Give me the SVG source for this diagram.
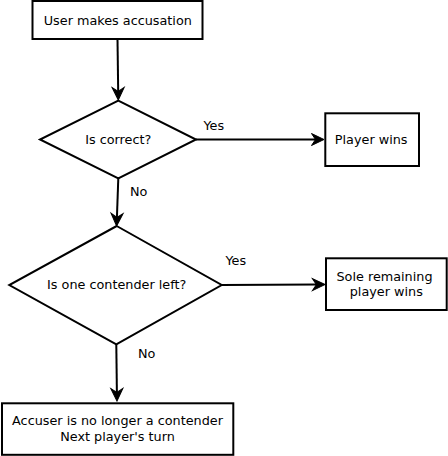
<svg xmlns="http://www.w3.org/2000/svg" width="448" height="456" viewBox="0 0 448 456">
<style>
.box{fill:#fff;stroke:#000;stroke-width:2}
.dia{fill:#fff;stroke:#000;stroke-width:2;stroke-linejoin:miter}
.con{fill:none;stroke:#000;stroke-width:2}
text{font-family:"DejaVu Sans","Liberation Sans",sans-serif;font-size:12.8px;fill:#000}
.c{text-anchor:middle}
</style>
<defs>
<marker id="arr" markerUnits="userSpaceOnUse" viewBox="-6 -7 16 14" refX="0" refY="0" markerWidth="16" markerHeight="14" orient="auto" overflow="visible">
<path d="M8,0 L-4.5,-6 L-0.5,0 L-4.5,6 Z" fill="#000" stroke="#000" stroke-width="1" stroke-linejoin="miter"/>
</marker>
</defs>
<g id="connectors">
<line class="con" x1="117.5" y1="39" x2="118.2" y2="92" marker-end="url(#arr)"/>
<line class="con" x1="196" y1="139.5" x2="316" y2="139.5" marker-end="url(#arr)"/>
<line class="con" x1="118.3" y1="178.3" x2="116.9" y2="218" marker-end="url(#arr)"/>
<line class="con" x1="221.7" y1="285" x2="317" y2="284.6" marker-end="url(#arr)"/>
<line class="con" x1="116.3" y1="344.3" x2="116.9" y2="393" marker-end="url(#arr)"/>
<text x="203.5" y="130">Yes</text>
<text x="130" y="196">No</text>
<text x="225.5" y="264.5">Yes</text>
<text x="138" y="358">No</text>
</g>
<g id="start">
<rect class="box" x="32.5" y="1" width="170" height="38"/>
<text class="c" x="117.8" y="24.7">User makes accusation</text>
</g>
<g id="correct">
<polygon class="dia" points="118.3,100.7 196,139.5 118.3,178.3 40,139.5"/>
<text class="c" x="118.2" y="144">Is correct?</text>
</g>
<g id="playerwins">
<rect class="box" x="325.3" y="113.3" width="93.7" height="52.7"/>
<text class="c" x="371.2" y="144">Player wins</text>
</g>
<g id="onecontender">
<polygon class="dia" points="116.7,226 221.7,285 116.3,344.3 9.3,285"/>
<text class="c" x="116.7" y="289.3">Is one contender left?</text>
</g>
<g id="solewins">
<rect class="box" x="326" y="258.3" width="120.7" height="51.7"/>
<text class="c" x="384.5" y="281">Sole remaining</text>
<text class="c" x="386.3" y="296">player wins</text>
</g>
<g id="nextturn">
<rect class="box" x="2" y="403.3" width="231.3" height="51.5"/>
<text class="c" x="117.5" y="425.3">Accuser is no longer a contender</text>
<text class="c" x="117.5" y="440.7">Next player's turn</text>
</g>
</svg>
